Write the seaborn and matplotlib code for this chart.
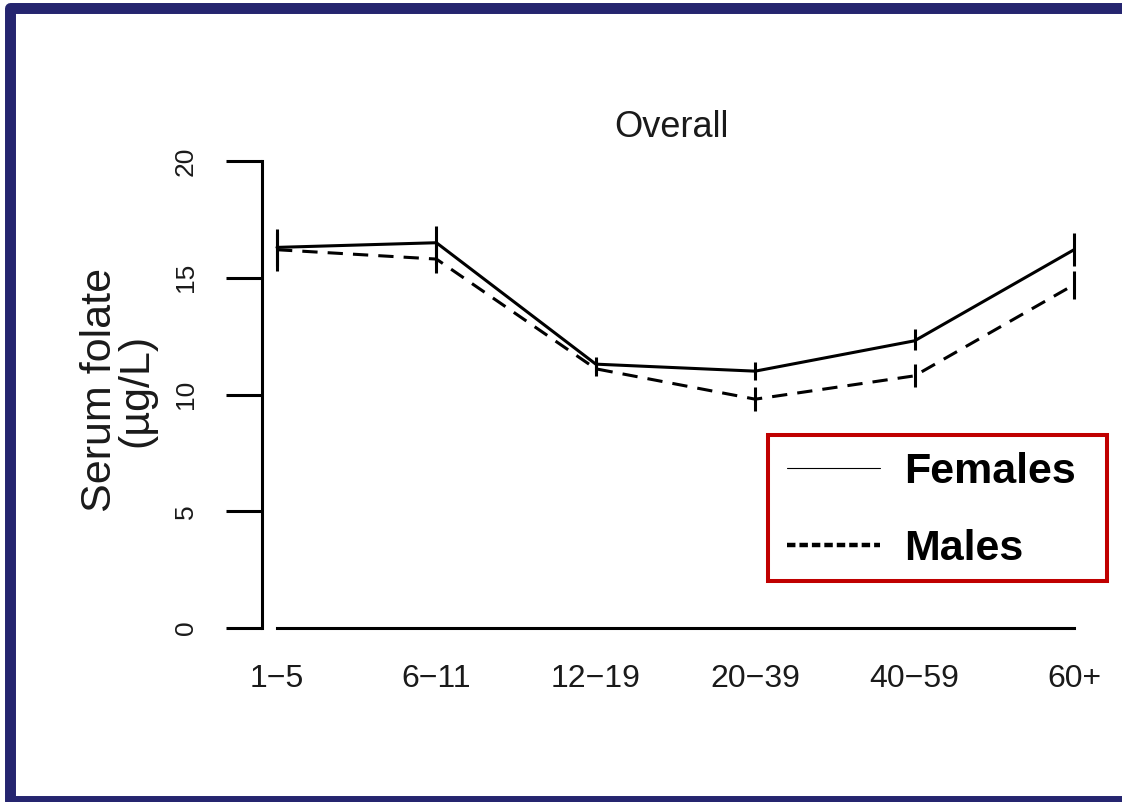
import numpy as np
import pandas as pd
import matplotlib
matplotlib.use("Agg")
import matplotlib.pyplot as plt
from matplotlib.lines import Line2D
from matplotlib.patches import Rectangle
import seaborn as sns

# Serum folate by age group (µg/L), means with interval bounds
age_groups = ["1\u22125", "6\u221211", "12\u221219", "20\u221239", "40\u221259", "60+"]
female_mean = [16.3, 16.5, 11.3, 11.0, 12.3, 16.2]
female_lo = [15.3, 15.6, 10.9, 10.6, 11.9, 15.5]
female_hi = [17.1, 17.2, 11.6, 11.4, 12.8, 16.9]
male_mean = [16.2, 15.8, 11.1, 9.8, 10.8, 14.7]
male_lo = [15.5, 15.2, 10.8, 9.3, 10.3, 14.1]
male_hi = [16.9, 16.5, 11.5, 10.3, 11.3, 15.3]
y_ticks = [0, 5, 10, 15, 20]

sns.set_theme(style="white")
plt.rcParams["font.family"] = ["Liberation Sans", "DejaVu Sans"]

df = pd.DataFrame({
    "Age": age_groups * 2,
    "Sex": ["Females"] * len(age_groups) + ["Males"] * len(age_groups),
    "Folate": female_mean + male_mean,
})

fig = plt.figure(figsize=(11.22, 8.02), dpi=100)
fig.patch.set_facecolor("white")
ax = fig.add_axes([262 / 1122, 174 / 802, 828 / 1122, 467 / 802])
ax.set_facecolor("white")

lw = 2.2
sns.lineplot(data=df, x="Age", y="Folate", style="Sex",
             dashes={"Females": "", "Males": (5, 3.3)},
             color="black", linewidth=lw, sort=False, legend=False, ax=ax)

pos = np.arange(len(age_groups))
ax.vlines(pos, female_lo, female_hi, color="black", linewidth=lw)
ax.vlines(pos, male_lo, male_hi, color="black", linewidth=lw)

ax.set_xlim(-15 / 159.4, 5 + 16 / 159.4)
ax.set_ylim(0, 20)
ax.set_yticks(y_ticks)
ax.set_yticklabels([str(t) for t in y_ticks])

for side in ["top", "right"]:
    ax.spines[side].set_visible(False)
for side in ["left", "bottom"]:
    ax.spines[side].set_color("black")
    ax.spines[side].set_linewidth(2.2)
ax.spines["left"].set_bounds(0, 20)
ax.spines["bottom"].set_bounds(0, 5)

txt = "#1a1a1a"
ax.tick_params(axis="y", length=26, width=2.2, color="black", pad=20,
               labelsize=19, labelcolor=txt, labelrotation=90, left=True)
for lab in ax.get_yticklabels():
    lab.set_va("center")
ax.tick_params(axis="x", length=0, pad=26, labelsize=23, labelcolor=txt)

ax.set_xlabel("")
ax.set_ylabel("Serum folate\n(µg/L)", fontsize=31, color=txt,
              linespacing=0.9, va="center")
ax.yaxis.set_label_coords((118 - 262) / 828, (628 - 390) / 467)

ax.set_title("Overall", fontsize=26, color=txt,
             x=(671 - 262) / 828, y=1 + (161 - 136) / 467, va="center")

# legend box
fig.patches.append(Rectangle((768 / 1122, (802 - 581) / 802),
                             (1107 - 768) / 1122, (581 - 435) / 802,
                             transform=fig.transFigure, fill=True,
                             facecolor="white", edgecolor="#c00000",
                             linewidth=2.9, zorder=5))
handles = [Line2D([], [], color="black", linewidth=0.8),
           Line2D([], [], color="black", linewidth=3.2, dashes=(1.9, 0.9))]
leg = fig.legend(handles, ["Females", "Males"], loc="upper left",
                 bbox_to_anchor=(787 / 1122, (802 - 452) / 802),
                 frameon=False, borderpad=0, borderaxespad=0,
                 handlelength=2.15, handletextpad=0.58, labelspacing=0.85,
                 labelcolor="black",
                 prop={"size": 31, "weight": "bold", "family": "Liberation Sans"})
leg.set_zorder(6)

# outer frame
fig.add_artist(Line2D([1.02, 9.5 / 1122, 9.5 / 1122, 1.02],
                      [1 / 802, 1 / 802, 794.5 / 802, 794.5 / 802],
                      transform=fig.transFigure, color="#25256f",
                      linewidth=7.9, solid_joinstyle="round"))

fig.savefig("out.png", dpi=100)
